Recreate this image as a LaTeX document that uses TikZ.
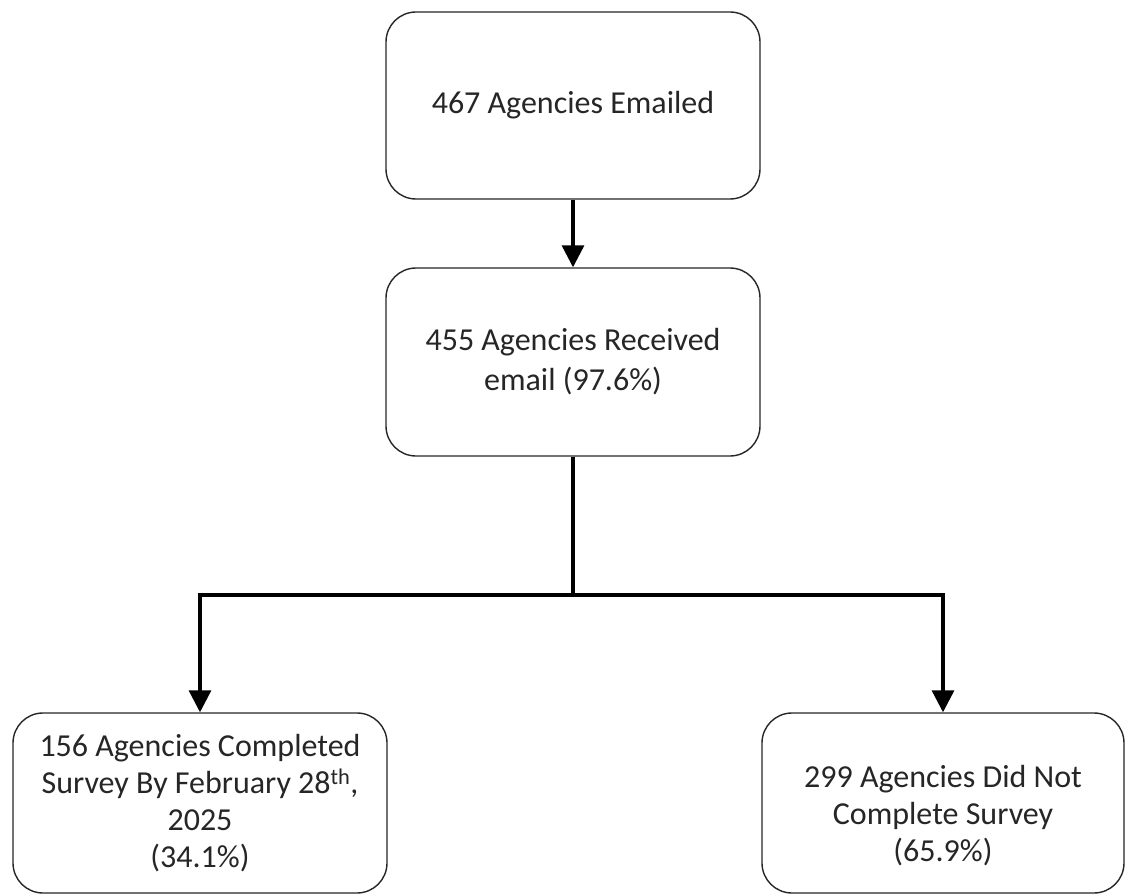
\documentclass[tikz,border=0pt]{standalone}
\usepackage{fontspec}
\setmainfont{Carlito}
\usetikzlibrary{arrows.meta}
\begin{document}
\begin{tikzpicture}[x=1pt,y=-1pt,
  box/.style={draw=black!85, line width=1.4pt, rounded corners=30pt, fill=white,
    minimum width=374pt, align=center, text=black!85,
    font=\fontsize{32}{40}\selectfont},
  conn/.style={line width=3.2pt, -{Triangle[width=22pt,length=22pt]}},
  plain/.style={line width=3.2pt}]
\useasboundingbox (0,0) rectangle (1125,896);
\node[box, minimum height=187pt] (b1) at (573,105.5) {467 Agencies Emailed};
\node[box, minimum height=188pt] (b2) at (573,362) {455 Agencies Received\\email (97.6\%)};
\node[box, minimum height=180pt, font=\fontsize{32}{37}\selectfont] (b3) at (200,803)
  {156 Agencies Completed\\Survey By February 28\textsuperscript{th},\\2025\\(34.1\%)};
\node[box, minimum height=180pt, minimum width=362pt, font=\fontsize{32}{37}\selectfont] (b4) at (943,803)
  {\rule{0pt}{48pt}299 Agencies Did Not\\Complete Survey\\(65.9\%)};
\coordinate (split) at (573,595);
\draw[conn] (b1) -- (b2);
\draw[plain] (b2.south) -- (split);
\draw[conn] (split) -| (b3.north);
\draw[conn] (split) -| (b4.north);
\end{tikzpicture}
\end{document}
